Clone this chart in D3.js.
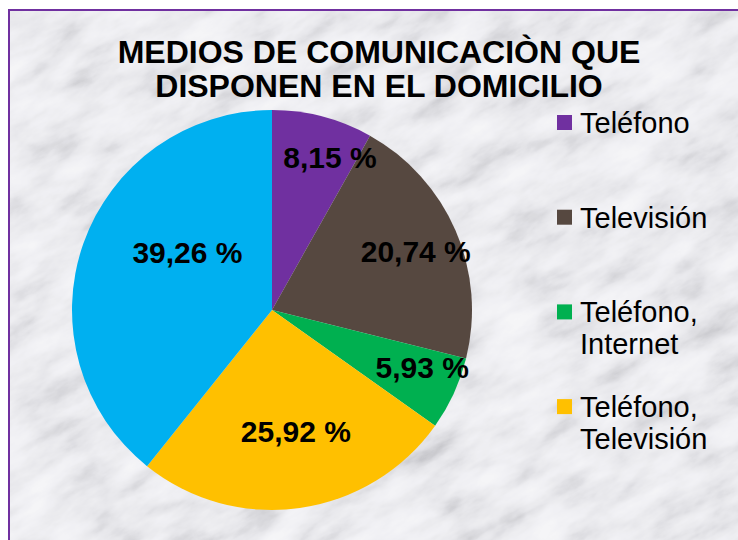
<!DOCTYPE html>
<html>
<head>
<meta charset="utf-8">
<script src="https://cdn.jsdelivr.net/npm/d3@7"></script>
<style>
  body { margin: 0; background: #fff; }
  svg { display: block; }
</style>
</head>
<body>
<div id="chart"></div>
<script>
// chart data
var categories = ["Teléfono", "Televisión", "Teléfono, Internet", "Teléfono, Televisión", "Otros"];
var values = [8.15, 20.74, 5.93, 25.92, 39.26];
var colors = ["#7030A0", "#564840", "#00B050", "#FFC000", "#00B0F0"];
var legendLines = [["Teléfono"], ["Televisión"], ["Teléfono,", "Internet"], ["Teléfono,", "Televisión"]];
var titleLines = ["MEDIOS DE COMUNICACIÒN QUE", "DISPONEN EN EL DOMICILIO"];

//svg size
var svgWidth = 738;
var svgHeight = 540;

var svg = d3.select("#chart")
    .append("svg")
    .attr("width", svgWidth)
    .attr("height", svgHeight);

var defs = svg.append("defs");

// marble texture
var filter = defs.append("filter")
    .attr("id", "marble")
    .attr("x", 0).attr("y", 0)
    .attr("width", "100%").attr("height", "100%");
filter.append("feTurbulence")
    .attr("type", "fractalNoise")
    .attr("baseFrequency", "0.016 0.04")
    .attr("numOctaves", 5)
    .attr("seed", 11);
filter.append("feColorMatrix")
    .attr("type", "saturate")
    .attr("values", 0);
var ct = filter.append("feComponentTransfer");
ct.append("feFuncR").attr("type", "table").attr("tableValues", "0.38 0.52 0.68 0.8 0.87 0.91 0.93 0.94");
ct.append("feFuncG").attr("type", "table").attr("tableValues", "0.38 0.52 0.68 0.8 0.87 0.91 0.93 0.94");
ct.append("feFuncB").attr("type", "table").attr("tableValues", "0.41 0.55 0.71 0.83 0.9 0.93 0.95 0.96");
ct.append("feFuncA").attr("type", "linear").attr("slope", 0).attr("intercept", 1);

defs.append("clipPath")
    .attr("id", "area")
    .append("rect")
    .attr("x", 9).attr("y", 10)
    .attr("width", svgWidth).attr("height", svgHeight);

svg.append("g")
    .attr("clip-path", "url(#area)")
    .append("g")
    .attr("transform", "translate(369,270) rotate(-28)")
    .append("rect")
    .attr("x", -600).attr("y", -600)
    .attr("width", 1200).attr("height", 1200)
    .attr("filter", "url(#marble)");

// border
svg.append("rect")
    .attr("x", 9).attr("y", 10)
    .attr("width", svgWidth).attr("height", svgHeight)
    .attr("fill", "none")
    .attr("stroke", "#7030A0")
    .attr("stroke-width", 2);

// title
svg.append("text")
    .attr("text-anchor", "middle")
    .attr("font-family", "Liberation Sans, Arial, sans-serif")
    .attr("font-weight", "bold")
    .attr("font-size", 32)
    .attr("fill", "#000")
    .selectAll("tspan")
    .data(titleLines)
    .enter()
    .append("tspan")
    .attr("x", 379)
    .attr("y", (d, i) => 63 + i * 34)
    .text(d => d);

// pie
var radius = 200;
var pieGroup = svg.append("g")
    .attr("transform", "translate(272, 310)");

var pie = d3.pie().sort(null).value(d => d);
var arc = d3.arc().innerRadius(0).outerRadius(radius);
var labelArc = d3.arc().innerRadius(radius * 0.75).outerRadius(radius * 0.75);
var arcs = pie(values);

pieGroup.selectAll("path")
    .data(arcs)
    .enter()
    .append("path")
    .attr("d", arc)
    .attr("fill", (d, i) => colors[i]);

// label nudges from the centroid
var labelNudge = [[20, -8], [6, 1], [14, -5], [3, -27], [57, -8]];
var fmt = v => d3.format(".2f")(v).replace(".", ",") + " %";

pieGroup.selectAll(".slice-label")
    .data(arcs)
    .enter()
    .append("text")
    .attr("class", "slice-label")
    .attr("transform", (d, i) => {
        var c = labelArc.centroid(d);
        return `translate(${c[0] + labelNudge[i][0]}, ${c[1] + labelNudge[i][1]})`;
    })
    .attr("text-anchor", "middle")
    .attr("dy", "0.36em")
    .attr("font-family", "Liberation Sans, Arial, sans-serif")
    .attr("font-weight", "bold")
    .attr("font-size", 30)
    .attr("fill", "#000")
    .text(d => fmt(d.data));

// legend
var legend = svg.append("g")
    .attr("font-family", "Liberation Sans, Arial, sans-serif")
    .attr("font-size", 29)
    .attr("fill", "#000");

var item = legend.selectAll("g")
    .data(legendLines)
    .enter()
    .append("g")
    .attr("transform", (d, i) => `translate(557, ${133 + i * 94.7})`);

item.append("rect")
    .attr("x", 0).attr("y", -18)
    .attr("width", 15).attr("height", 15)
    .attr("fill", (d, i) => colors[i]);

item.append("text")
    .selectAll("tspan")
    .data(d => d)
    .enter()
    .append("tspan")
    .attr("x", 23)
    .attr("y", (d, i) => i * 32)
    .text(d => d);
</script>
</body>
</html>
